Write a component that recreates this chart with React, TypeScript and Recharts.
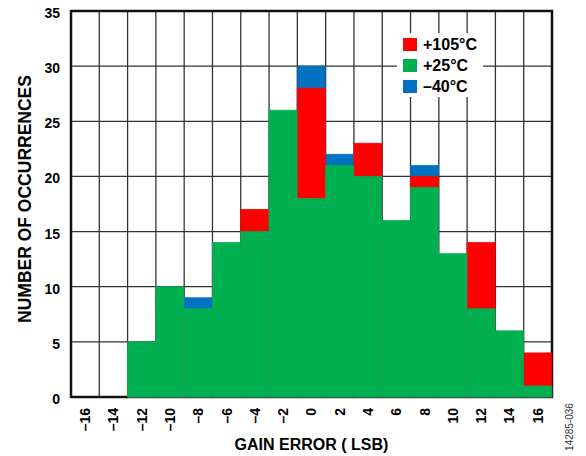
import { BarChart, Bar, XAxis, YAxis, CartesianGrid, Legend, ReferenceArea } from 'recharts';

// histogram bins (LSB) and counts per temperature
const bins = [-16, -14, -12, -10, -8, -6, -4, -2, 0, 2, 4, 6, 8, 10, 12, 14, 16];
const hot105 = [0, 0, 3, 8, 6, 12, 17, 20, 28, 18, 23, 14, 20, 10, 14, 4, 4];
const room25 = [0, 0, 5, 10, 8, 14, 15, 26, 18, 21, 20, 16, 19, 13, 8, 6, 1];
const cold40 = [0, 0, 4, 9, 9, 13, 14, 24, 30, 22, 19, 15, 21, 10, 6, 4, 1];

const yTicks = [0, 5, 10, 15, 20, 25, 30, 35];
const binEdges = [-17, -15, -13, -11, -9, -7, -5, -3, -1, 1, 3, 5, 7, 9, 11, 13, 15, 17];

const series = [
  { key: 'hot', name: '+105°C', color: '#FF0000' },
  { key: 'room', name: '+25°C', color: '#00B050' },
  { key: 'cold', name: '–40°C', color: '#0070C0' },
];

const data = bins.map((bin, i) => ({
  bin,
  hot: hot105[i],
  room: room25[i],
  cold: cold40[i],
}));

const FONT = '"Liberation Sans", Arial, sans-serif';

const fmtMinus = (v: number) => String(v).replace('-', '–');

const BinTick = (props: any) => {
  const { x, y, payload } = props;
  return (
    <g transform={`translate(${x},${y})`}>
      <text
        transform="rotate(-90)"
        textAnchor="end"
        dy="0.35em"
        fontSize={14}
        fontWeight={700}
        fill="#000"
        fontFamily={FONT}
      >
        {fmtMinus(payload.value)}
      </text>
    </g>
  );
};

const XTitle = (props: any) => {
  const { viewBox } = props;
  return (
    <text
      x={viewBox.x + viewBox.width / 2}
      y={viewBox.y + 53}
      textAnchor="middle"
      fontSize={16}
      fontWeight={700}
      fill="#000"
      fontFamily={FONT}
    >
      GAIN ERROR ( LSB)
    </text>
  );
};

const YTitle = (props: any) => {
  const { viewBox } = props;
  const cx = viewBox.x + 25;
  const cy = viewBox.y + viewBox.height / 2 - 5;
  return (
    <text
      x={cx}
      y={cy}
      transform={`rotate(-90 ${cx} ${cy})`}
      textAnchor="middle"
      dominantBaseline="central"
      fontSize={17.5}
      fontWeight={700}
      fill="#000"
      fontFamily={FONT}
    >
      NUMBER OF OCCURRENCES
    </text>
  );
};

const LegendBox = () => (
  <div style={{ background: '#fff', padding: '1px 0 0 6px', fontFamily: FONT }}>
    {series.map((s) => (
      <div key={s.key} style={{ display: 'flex', alignItems: 'center', height: 21 }}>
        <span style={{ width: 14, height: 13, background: s.color, marginRight: 6 }} />
        <span style={{ fontWeight: 700, fontSize: 16, color: '#000' }}>{s.name}</span>
      </div>
    ))}
  </div>
);

const App = () => {
  return (
    <div style={{ position: 'absolute', left: 0, top: 0, width: 586, height: 456, background: '#fff' }}>
      <BarChart
        width={586}
        height={456}
        data={data}
        margin={{ top: 11, right: 34, bottom: 0, left: 0 }}
        barCategoryGap={0}
        barGap={0}
      >
        <XAxis
          xAxisId="room"
          dataKey="bin"
          height={59}
          axisLine={false}
          tickLine={false}
          tickSize={6}
          tickMargin={5}
          interval={0}
          tick={<BinTick />}
          label={<XTitle />}
        />
        <XAxis xAxisId="grid" type="number" dataKey="bin" domain={[-17, 17]} ticks={binEdges} allowDataOverflow hide height={0} />
        <XAxis xAxisId="hot" dataKey="bin" hide height={0} />
        <XAxis xAxisId="cold" dataKey="bin" hide height={0} />
        <YAxis
          domain={[0, 35]}
          ticks={yTicks}
          width={71}
          axisLine={false}
          tickLine={false}
          tickMargin={5}
          tick={{ fontSize: 14, fontWeight: 700, fill: '#000', fontFamily: FONT, dy: 2 }}
          label={<YTitle />}
        />
        <CartesianGrid xAxisId="grid" stroke="#333" strokeWidth={1.3} />
        <Bar xAxisId="cold" dataKey="cold" name="–40°C" fill="#0070C0" stroke="#0070C0" strokeWidth={0.8} isAnimationActive={false} />
        <Bar xAxisId="hot" dataKey="hot" name="+105°C" fill="#FF0000" stroke="#FF0000" strokeWidth={0.8} isAnimationActive={false} />
        <Bar xAxisId="room" dataKey="room" name="+25°C" fill="#00B050" stroke="#00B050" strokeWidth={0.8} isAnimationActive={false} />
        <ReferenceArea xAxisId="grid" x1={-17} x2={17} y1={0} y2={35} fill="none" stroke="#111" strokeWidth={2.5} />
        <Legend
          layout="vertical"
          align="center"
          verticalAlign="middle"
          content={<LegendBox />}
          wrapperStyle={{ position: 'absolute', left: 397, top: 33, width: 86, height: 65, margin: 0 }}
        />
      </BarChart>
      <div
        style={{
          position: 'absolute',
          left: 569,
          top: 427,
          transform: 'translate(-50%, -50%) rotate(-90deg)',
          fontSize: 10,
          color: '#333',
          fontFamily: FONT,
          whiteSpace: 'nowrap',
        }}
      >
        14285-036
      </div>
    </div>
  );
};

export default App;
